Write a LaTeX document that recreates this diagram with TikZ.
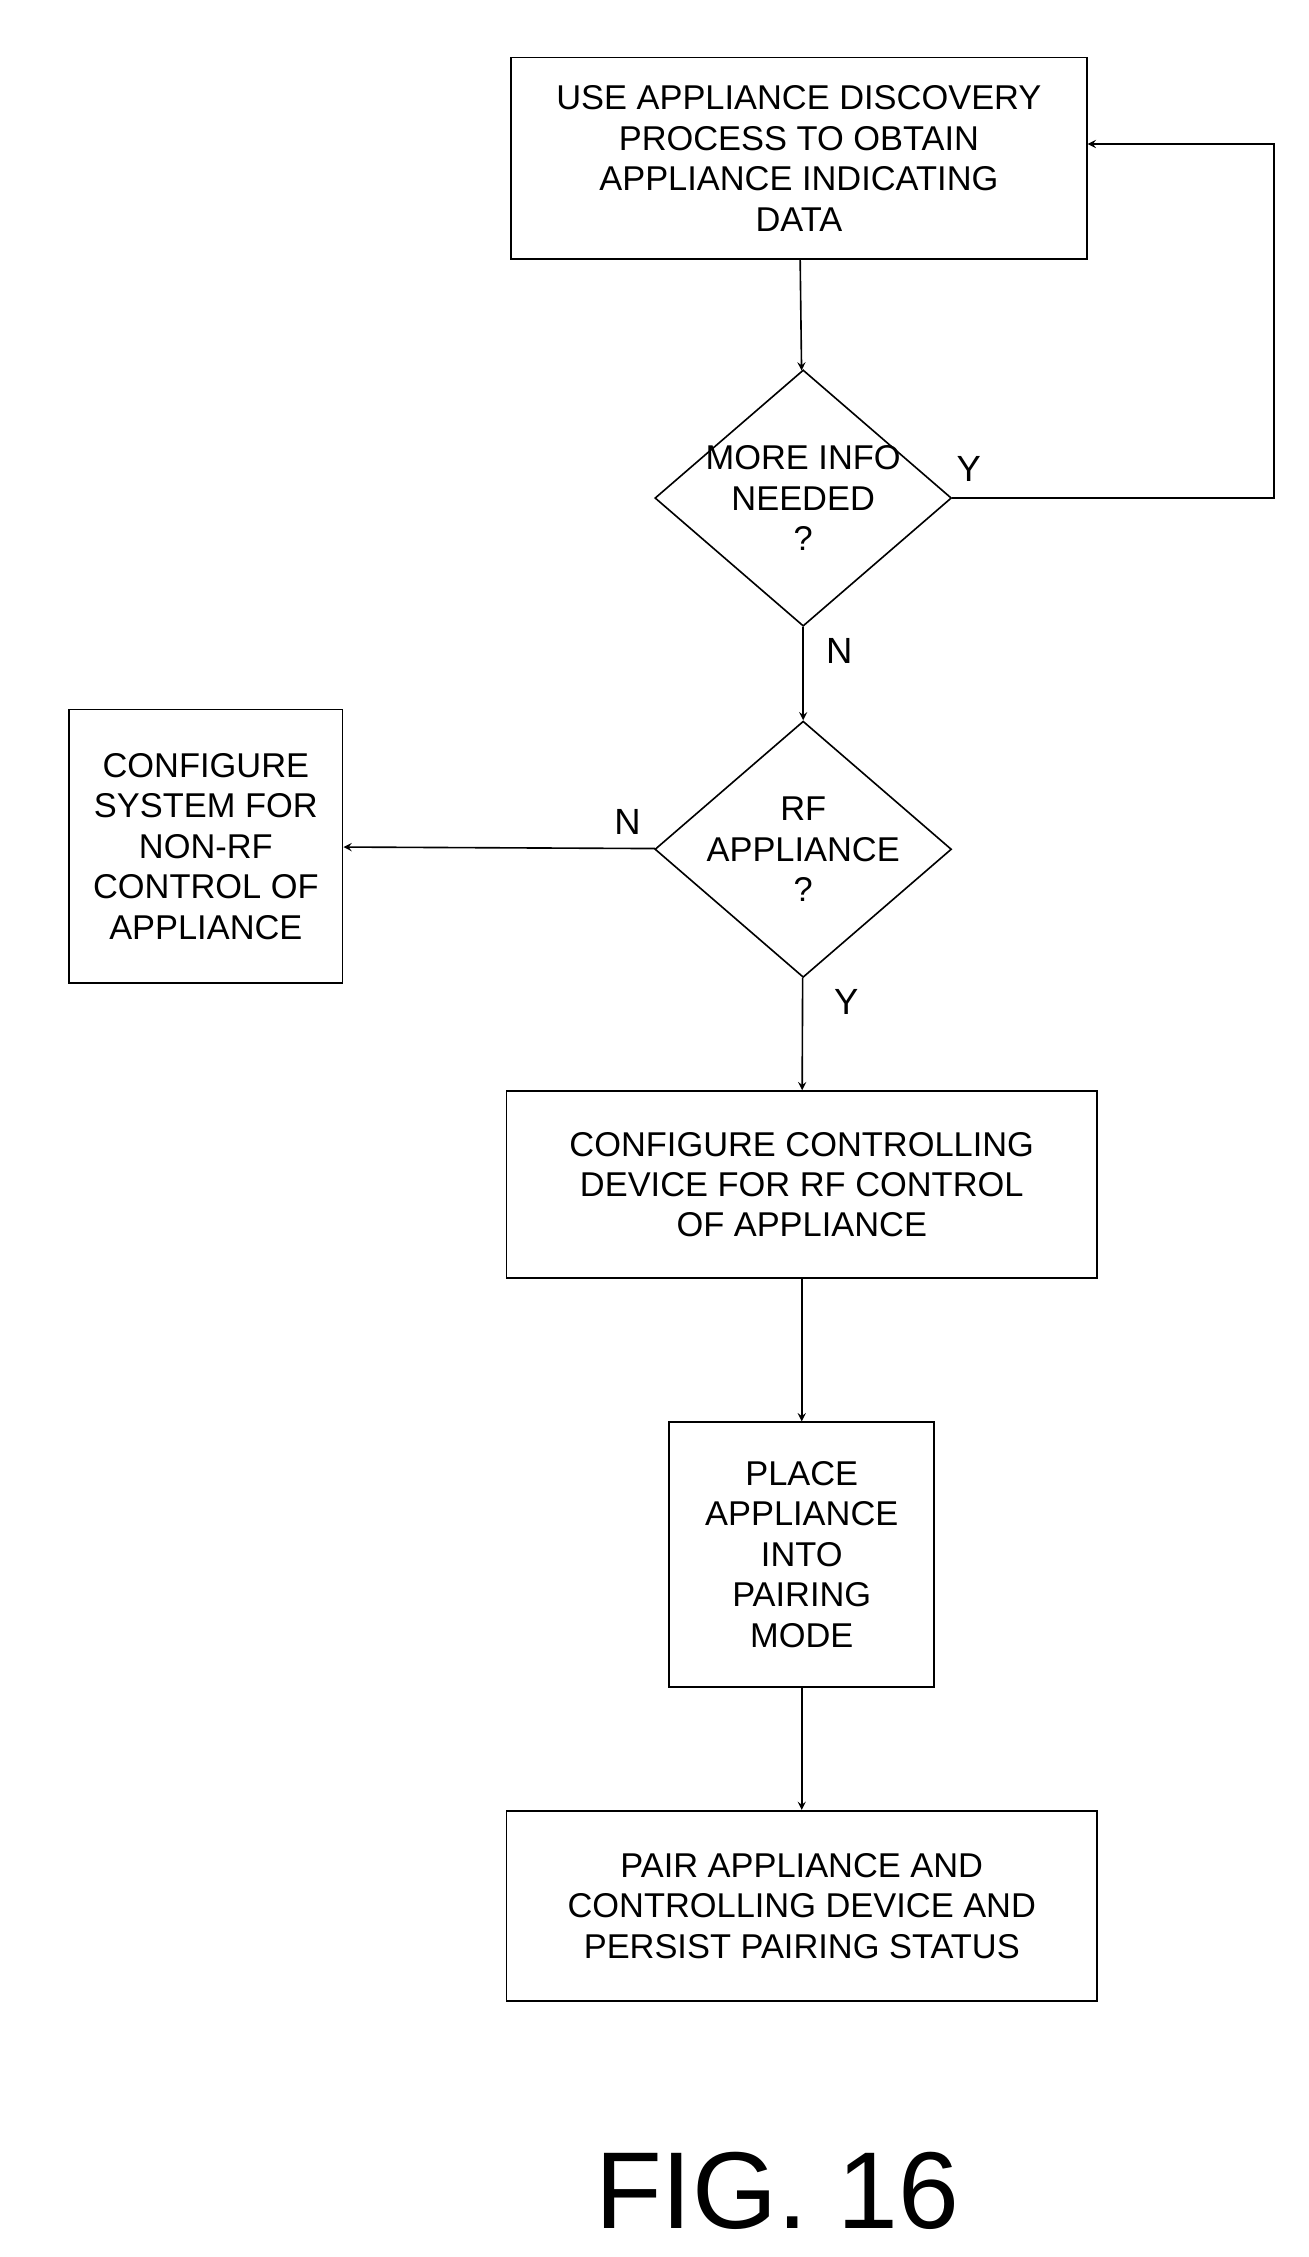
\documentclass[tikz,border=0pt]{standalone}
\usepackage{fontspec}
\setmainfont{Liberation Sans}
\usetikzlibrary{positioning,arrows,shapes.geometric}

\tikzset{
  action/.style={rectangle, draw, line width=0.8pt, align=center, inner sep=2pt,
    font=\fontsize{17}{20}\selectfont},
  test/.style={diamond, draw, line width=0.8pt, align=center, inner sep=-0.55cm,
    minimum width=5.15cm, minimum height=4.45cm, font=\fontsize{17}{20}\selectfont},
  flow/.style={->, >=stealth, line width=0.8pt},
  lbl/.style={font=\fontsize{18}{20}\selectfont}
}

\begin{document}
\begin{tikzpicture}[x=0.025cm, y=-0.025cm]
\useasboundingbox (0,0) rectangle (909,1568);
%% Nodes definition
\node[action, minimum width=10cm, minimum height=3.5cm] (discover) at (555,110)
  {USE APPLIANCE DISCOVERY\\PROCESS TO OBTAIN\\APPLIANCE INDICATING\\DATA};
\node[test] (more_info) at (558,346) {MORE INFO\\NEEDED\\?};
\node[test] (rf_app) at (558,590) {RF\\APPLIANCE\\?};
\node[action, minimum width=4.75cm, minimum height=4.75cm] (non_rf) at (143,588)
  {CONFIGURE\\SYSTEM FOR\\NON-RF\\CONTROL OF\\APPLIANCE};
\node[action, minimum width=10.25cm, minimum height=3.25cm] (cfg_rf) at (557,823)
  {CONFIGURE CONTROLLING\\DEVICE FOR RF CONTROL\\OF APPLIANCE};
\node[action, minimum width=4.6cm, minimum height=4.6cm] (pairing) at (557,1080)
  {PLACE\\APPLIANCE\\INTO\\PAIRING\\MODE};
\node[action, minimum width=10.25cm, minimum height=3.3cm] (pair) at (557,1324)
  {PAIR APPLIANCE AND\\CONTROLLING DEVICE AND\\PERSIST PAIRING STATUS};
\node[font=\fontsize{54}{60}\selectfont] (fig) at (540,1522) {FIG. 16};
\coordinate (loop_a) at (885,346);
\coordinate (loop_b) at (885,100);

%% Edges definition
\draw[flow] (discover) -- (more_info);
\draw[flow] (more_info.east) -- (loop_a) -- (loop_b) -- (discover.east |- loop_b);
\draw[flow] (more_info) -- (rf_app);
\draw[flow] (rf_app) -- (non_rf);
\draw[flow] (rf_app) -- (cfg_rf);
\draw[flow] (cfg_rf) -- (pairing);
\draw[flow] (pairing) -- (pair);
\node[lbl] at (673,326) {Y};
\node[lbl] at (583,452) {N};
\node[lbl] at (436,571) {N};
\node[lbl] at (588,696) {Y};
\end{tikzpicture}
\end{document}
